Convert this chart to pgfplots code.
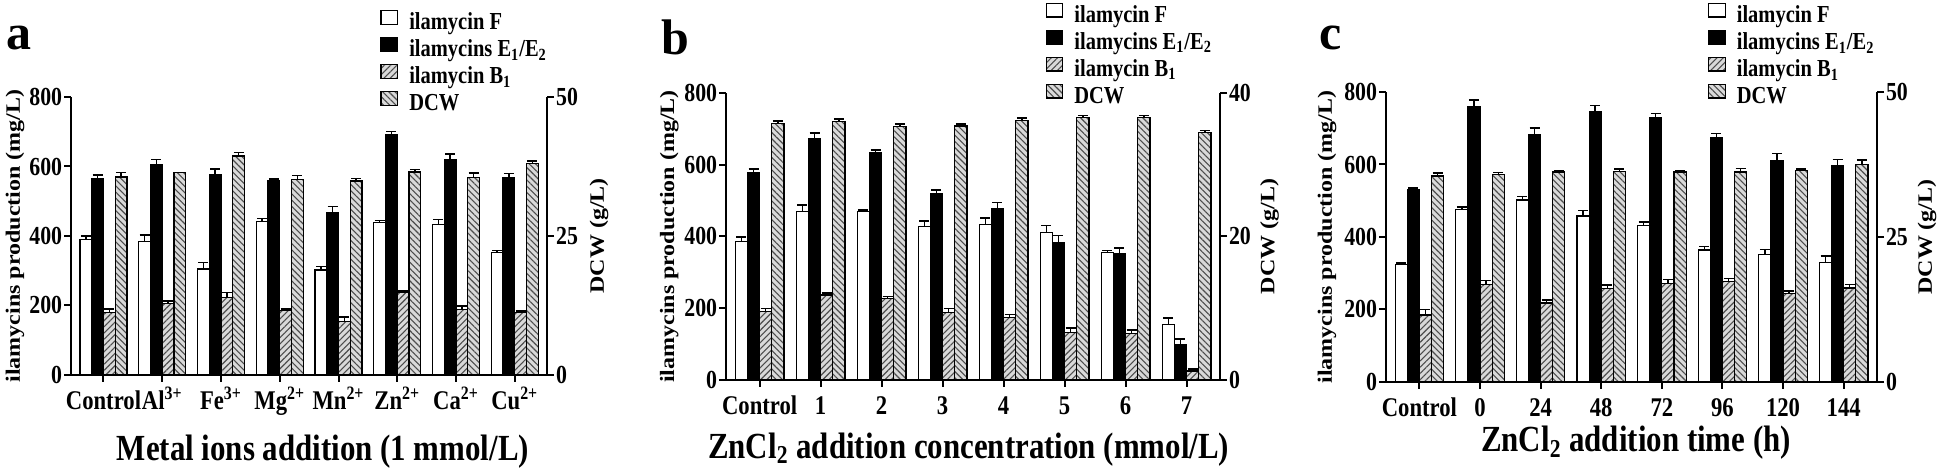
\documentclass[border=0pt]{standalone}
\usepackage{fontspec}
\setmainfont{Liberation Serif}[FakeStretch=0.84]
\newfontfamily\rotfont{Liberation Serif}
\usepackage{pgfplots}
\pgfplotsset{compat=1.18}
\usetikzlibrary{patterns.meta}

\tikzset{
 fF/.style={draw=black, line width=0.6pt, fill=white},
 fE/.style={draw=black, line width=0.6pt, fill=black},
 fB/.style={draw=black, line width=0.6pt, fill=gray!30, postaction={pattern={Lines[angle=45,distance=2.2pt,line width=0.55pt]}, pattern color=gray!60!black}},
 fD/.style={draw=black, line width=0.6pt, fill=gray!30, postaction={pattern={Lines[angle=-45,distance=2.2pt,line width=0.55pt]}, pattern color=gray!60!black}},
 ylabstyle/.style={rotate=90, yscale=0.85, anchor=center, font=\rotfont\fontsize{12}{14}\selectfont\bfseries},
}

\pgfplotsset{
 base/.style={scale only axis, xmin=-0.55, xmax=7.55, ymin=0,
   /pgf/number format/assume math mode=true,
   tick label style={font=\fontsize{13}{15}\selectfont\bfseries},
   y tick label style={inner xsep=0.8pt},
   axis line style={line width=1pt},
   major tick length=3.5pt,
   tick align=outside,
   every tick/.style={black, line width=1pt},
   ybar, bar width=0.2,
   error bars/y dir=plus, error bars/y explicit,
   error bars/error bar style={line width=0.7pt, black},
   error bars/error mark options={rotate=90, line width=0.7pt, mark size=2.5pt, black},
 },
 lft/.style={base, axis x line*=bottom, axis y line*=left, ymax=800,
   ytick={0,200,400,600,800}, xtick={0,...,7},
   x tick label style={font=\fontsize{13.5}{15}\selectfont\bfseries, anchor=base, yshift=-14pt},
   legend image code/.code={\draw[##1] (0pt,0pt) rectangle (8.3pt,6.7pt);},
   legend cell align=left,
   legend style={anchor=north west, draw=none, fill=none, inner sep=0pt,
     font=\fontsize{12.2}{13}\selectfont\bfseries, row sep=0pt, column sep=5.5pt,
     nodes={inner sep=0pt, text height=9.2pt, text depth=3.8pt}},
 },
 rgt/.style={base, axis x line=none, axis y line*=right},
}
\newcommand\ylab{ilamycins production (mg/L)}
\newcommand\legF{ilamycin F}
\newcommand\legE{ilamycins E\textsubscript{1}/E\textsubscript{2}}
\newcommand\legB{ilamycin B\textsubscript{1}}
\newcommand\xlabfont{\fontsize{18.4}{20}\selectfont\bfseries}

\begin{document}
\begin{tikzpicture}
\path (0,0) rectangle (974pt,236pt);

% ---------------- panel a ----------------
\node[anchor=base west, inner sep=0pt, font=\rotfont\fontsize{25}{25}\selectfont\bfseries] at (3pt,211pt) {a};
\begin{axis}[lft, at={(35.5pt,48.5pt)}, anchor=south west, width=238pt, height=139pt,
  xticklabels={Control,Al\textsuperscript{3+},Fe\textsuperscript{3+},Mg\textsuperscript{2+},Mn\textsuperscript{2+},Zn\textsuperscript{2+},Ca\textsuperscript{2+},Cu\textsuperscript{2+}},
  xlabel={Metal ions addition (1 mmol/L)}, ylabel={\ylab},
  every axis x label/.style={at={(axis description cs:0.529,-0.306)}, anchor=base, font=\xlabfont},
  every axis y label/.style={at={(axis description cs:-0.118,0.5)}, ylabstyle},
  legend style={at={(0.649,1.314)}}]
\addplot[fF, bar shift=-0.3] coordinates {(0,390) +- (0,10) (1,383) +- (0,20) (2,305) +- (0,18) (3,442) +- (0,8) (4,302) +- (0,10) (5,439) +- (0,5) (6,432) +- (0,15) (7,353) +- (0,5)};
\addplot[fE, bar shift=-0.1] coordinates {(0,565) +- (0,10) (1,605) +- (0,15) (2,578) +- (0,15) (3,559) +- (0,5) (4,466) +- (0,18) (5,693) +- (0,8) (6,621) +- (0,15) (7,568) +- (0,12)};
\addplot[fB, bar shift=0.1] coordinates {(0,180) +- (0,10) (1,205) +- (0,8) (2,222) +- (0,15) (3,185) +- (0,5) (4,155) +- (0,12) (5,237) +- (0,5) (6,188) +- (0,10) (7,180) +- (0,4)};
\addlegendimage{fD}
\legend{\legF,\legE,\legB,DCW}
\end{axis}
\begin{axis}[rgt, at={(35.5pt,48.5pt)}, anchor=south west, width=238pt, height=139pt,
  ymax=50, ytick={0,25,50}, ylabel={DCW (g/L)},
  every axis y label/.style={at={(axis description cs:1.109,0.5)}, ylabstyle}]
\addplot[fD, bar shift=0.3] coordinates {(0,35.6) +- (0,0.8) (1,36.4) +- (0,0) (2,39.4) +- (0,0.6) (3,35.1) +- (0,0.8) (4,34.9) +- (0,0.4) (5,36.5) +- (0,0.5) (6,35.5) +- (0,0.8) (7,38.1) +- (0,0.4)};
\end{axis}

% ---------------- panel b ----------------
\node[anchor=base west, inner sep=0pt, font=\rotfont\fontsize{25}{25}\selectfont\bfseries] at (330.5pt,208.5pt) {b};
\begin{axis}[lft, at={(363pt,46pt)}, anchor=south west, width=247pt, height=143.5pt,
  xticklabels={Control,1,2,3,4,5,6,7},
  xlabel={ZnCl\textsubscript{2} addition concentration (mmol/L)}, ylabel={\ylab},
  every axis x label/.style={at={(axis description cs:0.491,-0.272)}, anchor=base, font=\xlabfont},
  every axis y label/.style={at={(axis description cs:-0.115,0.5)}, ylabstyle},
  legend style={at={(0.646,1.315)}}]
\addplot[fF, bar shift=-0.3] coordinates {(0,386) +- (0,12) (1,470) +- (0,18) (2,469) +- (0,5) (3,428) +- (0,15) (4,433) +- (0,18) (5,410) +- (0,20) (6,356) +- (0,5) (7,155) +- (0,18)};
\addplot[fE, bar shift=-0.1] coordinates {(0,578) +- (0,10) (1,674) +- (0,15) (2,633) +- (0,8) (3,520) +- (0,10) (4,477) +- (0,18) (5,384) +- (0,18) (6,353) +- (0,15) (7,99) +- (0,15)};
\addplot[fB, bar shift=0.1] coordinates {(0,191) +- (0,8) (1,237) +- (0,5) (2,227) +- (0,5) (3,187) +- (0,12) (4,174) +- (0,8) (5,133) +- (0,12) (6,129) +- (0,10) (7,25) +- (0,5)};
\addlegendimage{fD}
\legend{\legF,\legE,\legB,DCW}
\end{axis}
\begin{axis}[rgt, at={(363pt,46pt)}, anchor=south west, width=247pt, height=143.5pt,
  ymax=40, ytick={0,20,40}, ylabel={DCW (g/L)},
  every axis y label/.style={at={(axis description cs:1.10,0.5)}, ylabstyle}]
\addplot[fD, bar shift=0.3] coordinates {(0,35.8) +- (0,0.3) (1,36.0) +- (0,0.4) (2,35.3) +- (0,0.4) (3,35.4) +- (0,0.3) (4,36.2) +- (0,0.3) (5,36.6) +- (0,0.3) (6,36.6) +- (0,0.3) (7,34.5) +- (0,0.3)};
\end{axis}

% ---------------- panel c ----------------
\node[anchor=base west, inner sep=0pt, font=\rotfont\fontsize{25}{25}\selectfont\bfseries] at (659.5pt,211pt) {c};
\begin{axis}[lft, at={(693pt,45pt)}, anchor=south west, width=245.5pt, height=145pt,
  xticklabels={Control,0,24,48,72,96,120,144},
  xlabel={ZnCl\textsubscript{2} addition time (h)}, ylabel={\ylab},
  every axis x label/.style={at={(axis description cs:0.509,-0.241)}, anchor=base, font=\xlabfont},
  every axis y label/.style={at={(axis description cs:-0.12,0.5)}, ylabstyle},
  legend style={at={(0.655,1.308)}}]
\addplot[fF, bar shift=-0.3] coordinates {(0,323) +- (0,5) (1,475) +- (0,8) (2,502) +- (0,10) (3,458) +- (0,15) (4,431) +- (0,10) (5,364) +- (0,10) (6,351) +- (0,15) (7,329) +- (0,18)};
\addplot[fE, bar shift=-0.1] coordinates {(0,530) +- (0,5) (1,760) +- (0,18) (2,683) +- (0,18) (3,747) +- (0,15) (4,730) +- (0,10) (5,673) +- (0,12) (6,612) +- (0,18) (7,598) +- (0,15)};
\addplot[fB, bar shift=0.1] coordinates {(0,185) +- (0,15) (1,268) +- (0,12) (2,218) +- (0,8) (3,258) +- (0,10) (4,272) +- (0,10) (5,278) +- (0,8) (6,243) +- (0,8) (7,259) +- (0,10)};
\addlegendimage{fD}
\legend{\legF,\legE,\legB,DCW}
\end{axis}
\begin{axis}[rgt, at={(693pt,45pt)}, anchor=south west, width=245.5pt, height=145pt,
  ymax=50, ytick={0,25,50}, ylabel={DCW (g/L)},
  every axis y label/.style={at={(axis description cs:1.102,0.5)}, ylabstyle}]
\addplot[fD, bar shift=0.3] coordinates {(0,35.5) +- (0,0.5) (1,35.8) +- (0,0.3) (2,36.2) +- (0,0.3) (3,36.3) +- (0,0.4) (4,36.2) +- (0,0.3) (5,36.2) +- (0,0.6) (6,36.4) +- (0,0.3) (7,37.5) +- (0,0.8)};
\end{axis}
\end{tikzpicture}
\end{document}
